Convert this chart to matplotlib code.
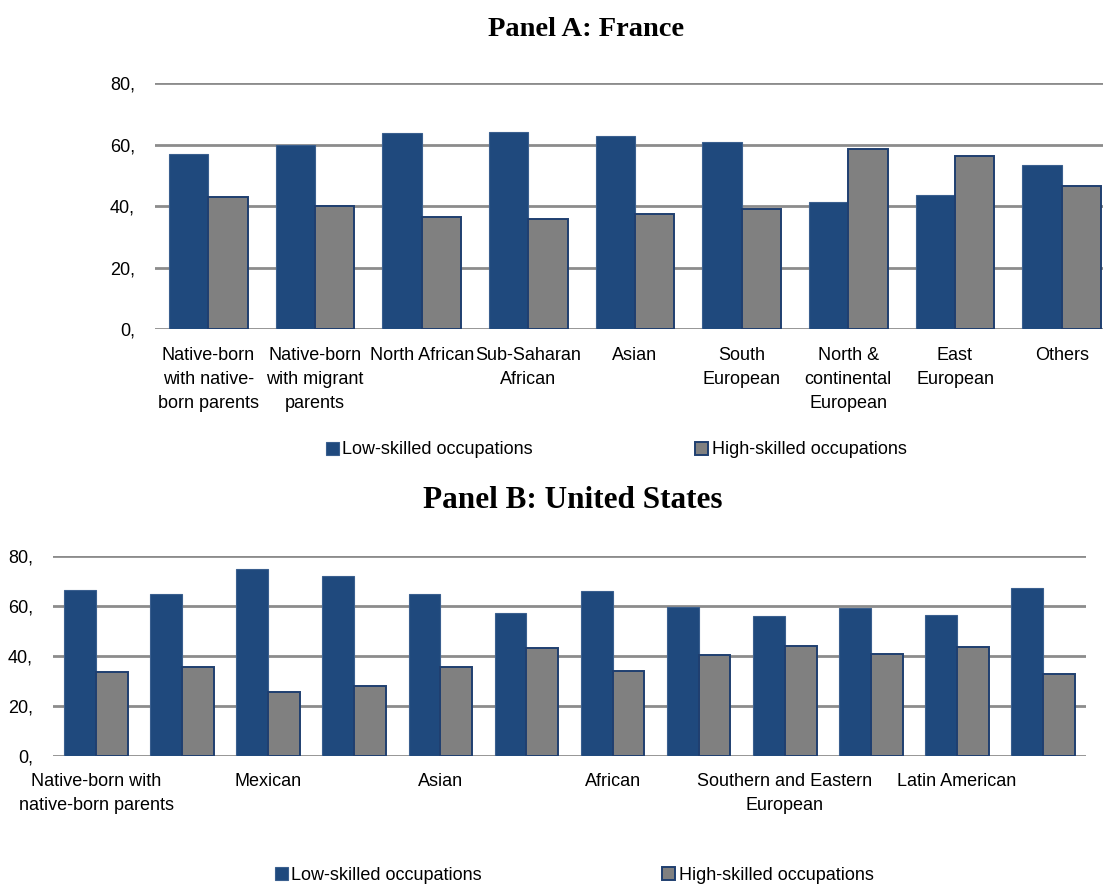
import numpy as np
import matplotlib.pyplot as plt
from matplotlib.patches import Patch

# Panel A: France
fr_labels = ["Native-born\nwith native-\nborn parents", "Native-born\nwith migrant\nparents",
             "North African", "Sub-Saharan\nAfrican", "Asian", "South\nEuropean",
             "North &\ncontinental\nEuropean", "East\nEuropean", "Others"]
fr_low = [57.1, 59.9, 63.8, 64.3, 62.8, 61.0, 41.5, 43.7, 53.5]
fr_high = [43.0, 40.1, 36.4, 36.0, 37.4, 39.1, 58.6, 56.5, 46.5]

# Panel B: United States (only every other category is labelled in the source)
us_labels = ["Native-born with\nnative-born parents", "", "Mexican", "", "Asian", "",
             "African", "", "Southern and Eastern\nEuropean", "", "Latin American", ""]
us_low = [66.4, 64.8, 74.7, 72.1, 64.8, 57.1, 66.1, 59.7, 55.9, 59.2, 56.4, 67.1]
us_high = [33.7, 35.5, 25.5, 28.1, 35.5, 43.1, 34.0, 40.5, 44.1, 40.9, 43.6, 32.9]

yticks = [0, 20, 40, 60, 80]
series_names = ["Low-skilled occupations", "High-skilled occupations"]

BLUE = "#1F497D"
GREY = "#808080"
EDGE = "#1F3F70"
GRID = "#8C8C8C"
FONT = "Liberation Sans"
FS = 13.0

W, H = 1103, 884
fig = plt.figure(figsize=(W / 100, H / 100), dpi=100)


def draw_panel(ax, labels, low, high, pad_x):
    x = np.arange(len(labels))
    bw = 0.37
    ax.bar(x - bw / 2, low, bw, color=BLUE, edgecolor="#3A5F8F", linewidth=0.8, zorder=3)
    ax.bar(x + bw / 2, high, bw, color=GREY, edgecolor=EDGE, linewidth=1.4, zorder=3)
    ax.set_ylim(0, 80)
    ax.set_xlim(-0.5, len(labels) - 0.5)
    ax.set_yticks(yticks)
    ax.set_yticklabels([f"{v}," for v in yticks], fontsize=FS, family=FONT)
    ax.set_xticks(x)
    ax.set_xticklabels(labels, fontsize=FS, family=FONT, linespacing=1.55)
    ax.tick_params(axis="y", length=0, pad=14.5)
    ax.tick_params(axis="x", length=0, pad=pad_x)
    for s in ax.spines.values():
        s.set_visible(False)
    ax.yaxis.grid(True, color=GRID, linewidth=2.0, zorder=0)
    ax.set_axisbelow(True)


axA = fig.add_axes([155 / W, 1 - 329.3 / H, 960 / W, 246 / H])
draw_panel(axA, fr_labels, fr_low, fr_high, 12.5)

axB = fig.add_axes([53 / W, 1 - 756 / H, 1033 / W, 200 / H])
draw_panel(axB, us_labels, us_low, us_high, 12)

fig.text(586 / W, 1 - 29 / H, "Panel A: France", ha="center", va="center",
         fontsize=20.5, fontweight="bold", family="Liberation Serif")
fig.text(573 / W, 1 - 500 / H, "Panel B: United States", ha="center", va="center",
         fontsize=22.5, fontweight="bold", family="Liberation Serif")

handles = [Patch(facecolor=BLUE, edgecolor="#3A5F8F", linewidth=0.8),
           Patch(facecolor=GREY, edgecolor=EDGE, linewidth=1.4)]

for (lx, ly, colsp) in [(326, 450, 9.0), (275, 875, 10.0)]:
    fig.legend(handles, series_names, loc="center left",
               bbox_to_anchor=(lx / W, 1 - ly / H), ncol=2, frameon=False,
               borderpad=0, borderaxespad=0, handlelength=0.7, handleheight=0.7,
               handletextpad=0.2, columnspacing=colsp,
               prop={"family": FONT, "size": FS})

fig.savefig("out.png", dpi=100)
